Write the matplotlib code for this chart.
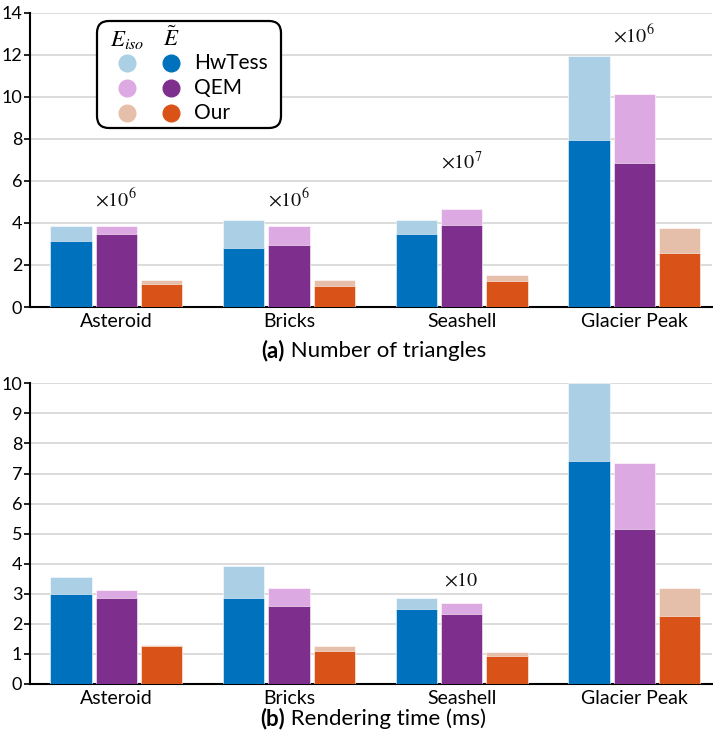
import matplotlib
matplotlib.use("Agg")
import matplotlib.pyplot as plt
import matplotlib.transforms as mtransforms
from matplotlib.patches import FancyBboxPatch
import numpy as np

plt.rcParams["font.family"] = ["Lato", "DejaVu Sans"]
plt.rcParams["mathtext.fontset"] = "stix"

# ---- data -------------------------------------------------------------
scenes = ["Asteroid", "Bricks", "Seashell", "Glacier Peak"]
methods = ["HwTess", "QEM", "Our"]

# number of triangles (scaled per scene, see multipliers)
tri_iso_hwtess = [3.85, 4.12, 4.14, 11.92]
tri_iso_qem = [3.86, 3.86, 4.64, 10.15]
tri_iso_our = [1.30, 1.30, 1.50, 3.78]
tri_tilde_hwtess = [3.15, 2.82, 3.47, 7.95]
tri_tilde_qem = [3.47, 2.95, 3.92, 6.84]
tri_tilde_our = [1.10, 0.98, 1.22, 2.57]
tri_multipliers = [r"$\times10^6$", r"$\times10^6$", r"$\times10^7$", r"$\times10^6$"]

# rendering time in ms (scaled per scene, see multipliers)
time_iso_hwtess = [3.55, 3.91, 2.86, 10.00]
time_iso_qem = [3.14, 3.18, 2.68, 7.36]
time_iso_our = [1.29, 1.25, 1.07, 3.18]
time_tilde_hwtess = [3.00, 2.87, 2.50, 7.42]
time_tilde_qem = [2.87, 2.59, 2.32, 5.16]
time_tilde_our = [1.25, 1.11, 0.94, 2.27]
time_multipliers = ["", "", r"$\times10$", ""]

# ---- style ------------------------------------------------------------
dark_colors = ["#0072BD", "#7E2F8E", "#D95319"]
light_colors = ["#ABCFE5", "#DDA9E3", "#E6BFAB"]

W, H = 713, 744
fig = plt.figure(figsize=(W / 100, H / 100), dpi=100)


def frac_rect(left, top, right, bottom):
    return [left / W, 1 - bottom / H, (right - left) / W, (bottom - top) / H]


ax_tri = fig.add_axes(frac_rect(30, 12.7, 712, 307))
ax_time = fig.add_axes(frac_rect(30, 383.3, 712, 684))

x = np.arange(len(scenes))
bar_w = 0.24
step = 0.263


def draw_panel(ax, iso_sets, tilde_sets, ymax, ystep, mults, mult_y):
    ax.set_axisbelow(True)
    ax.grid(axis="y", color="#dcdcdc", linewidth=1.4)
    for i, (iso, tilde) in enumerate(zip(iso_sets, tilde_sets)):
        xs = x + (i - 1) * step
        ax.bar(xs, iso, width=bar_w, color=light_colors[i],
               edgecolor="white", linewidth=0.4, zorder=2)
        ax.bar(xs, tilde, width=bar_w, color=dark_colors[i],
               edgecolor="white", linewidth=0.4, zorder=3)
    for xi, label, yy in zip(x, mults, mult_y):
        if label:
            ax.text(xi, yy, label, ha="center", va="center", fontsize=14.5,
                    color="#111111")
    ax.set_xlim(-0.5, 3.45)
    ax.set_ylim(0, ymax)
    ax.set_yticks(np.arange(0, ymax + 0.01, ystep))
    ax.set_xticks(x)
    ax.set_xticklabels(scenes, fontsize=14)
    ax.tick_params(axis="x", length=0, pad=4)
    ax.tick_params(axis="y", length=4, width=1.2, labelsize=13, pad=1.5)
    for side in ("top", "right"):
        ax.spines[side].set_visible(False)
    for side in ("left", "bottom"):
        ax.spines[side].set_linewidth(1.5)
        ax.spines[side].set_color("black")


draw_panel(ax_tri,
           [tri_iso_hwtess, tri_iso_qem, tri_iso_our],
           [tri_tilde_hwtess, tri_tilde_qem, tri_tilde_our],
           14, 2, tri_multipliers, [5.15, 5.15, 6.95, 12.95])
draw_panel(ax_time,
           [time_iso_hwtess, time_iso_qem, time_iso_our],
           [time_tilde_hwtess, time_tilde_qem, time_tilde_our],
           10, 1, time_multipliers, [0, 0, 3.47, 0])

# ---- legend (drawn in pixel space) ------------------------------------
ident = mtransforms.IdentityTransform()


def py(y):
    return H - y


box = FancyBboxPatch((97 + 10, py(128) + 10), 184 - 20, 107 - 20,
                     boxstyle="round,pad=10,rounding_size=12",
                     transform=ident, facecolor="white", edgecolor="black",
                     linewidth=1.6, zorder=10)
fig.patches.append(box)

fig.text(127 / W, 1 - 40 / H, r"$E_{iso}$", ha="center", va="center",
         fontsize=16.5, zorder=11)
fig.text(171 / W, 1 - 38 / H, r"$\tilde{E}$", ha="center", va="center",
         fontsize=16.5, zorder=11)
row_y = [62.7, 87.7, 112.7]
for i, (name, yy) in enumerate(zip(methods, row_y)):
    fig.lines.append(plt.Line2D([127.3], [py(yy)], marker="o", markersize=12,
                                color=light_colors[i], linestyle="none",
                                transform=ident, zorder=11))
    fig.lines.append(plt.Line2D([171], [py(yy)], marker="o", markersize=12,
                                color=dark_colors[i], linestyle="none",
                                transform=ident, zorder=11))
    fig.text(194 / W, 1 - yy / H, name, ha="left", va="center",
             fontsize=15, zorder=11)

# ---- captions ---------------------------------------------------------
fig.canvas.draw()
renderer = fig.canvas.get_renderer()


def caption(tag, rest, center_x, y):
    t1 = fig.text(0, 1 - y / H, tag, fontsize=16, fontweight="bold",
                  ha="left", va="center")
    t2 = fig.text(0, 1 - y / H, " " + rest, fontsize=16,
                  ha="left", va="center")
    w1 = t1.get_window_extent(renderer).width
    w2 = t2.get_window_extent(renderer).width
    start = center_x - (w1 + w2) / 2
    t1.set_x(start / W)
    t2.set_x((start + w1) / W)


caption("(a)", "Number of triangles", 374, 351)
caption("(b)", "Rendering time (ms)", 373, 719)

fig.savefig("out.png", dpi=100)
